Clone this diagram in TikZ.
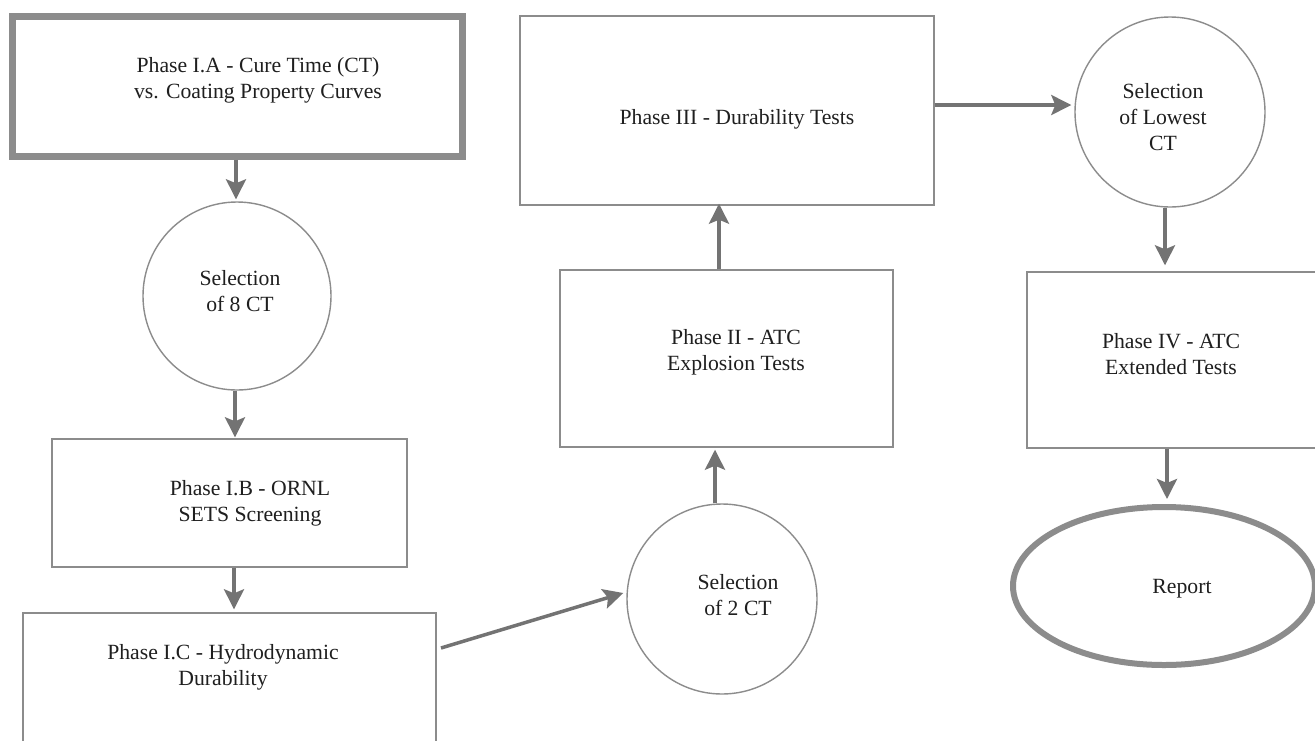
\documentclass[tikz,border=0pt]{standalone}
\usepackage{fontspec}
\setmainfont{Liberation Serif}
\usetikzlibrary{arrows.meta,shapes.geometric,calc}
\definecolor{bordergray}{gray}{0.55}
\definecolor{arrowgray}{gray}{0.45}
\definecolor{inkgray}{gray}{0.12}
\tikzset{
  x=1pt, y=-1pt,
  thinbox/.style={draw=bordergray, line width=1.4pt, rectangle, inner sep=0pt},
  thickbox/.style={draw=bordergray, line width=7pt, rectangle, inner sep=0pt},
  selcircle/.style={draw=bordergray, line width=1.4pt, circle, inner sep=0pt},
  endellipse/.style={draw=bordergray, line width=6pt, ellipse, inner sep=0pt},
  lbl/.style={text=inkgray, align=center, font=\fontsize{21.7}{26}\selectfont, inner sep=0pt},
  flow/.style={draw=arrowgray, line width=3.5pt,
    -{Stealth[length=20pt,width=20pt,inset=4pt]}}
}
\begin{document}
\begin{tikzpicture}
\useasboundingbox (0,0) rectangle (1315,740);
\fill[white] (0,0) rectangle (1315,740);
\clip (0,0) rectangle (1315,740);

% shapes
\node[thickbox, minimum width=450pt, minimum height=140pt] (ia) at (237,86) {};
\node[selcircle, minimum size=188pt] (c1) at (237,296) {};
\node[thinbox, minimum width=355pt, minimum height=128pt] (ib) at (229.5,503) {};
\node[thinbox, minimum width=413pt, minimum height=160pt] (ic) at (229.5,693) {};
\node[selcircle, minimum size=190pt] (c2) at (722,599) {};
\node[thinbox, minimum width=333pt, minimum height=177pt] (p2) at (726.5,358.5) {};
\node[thinbox, minimum width=414pt, minimum height=189pt] (p3) at (727,110.5) {};
\node[selcircle, minimum size=190pt] (c3) at (1170,112) {};
\node[thinbox, minimum width=320pt, minimum height=176pt] (p4) at (1187,360) {};
\node[endellipse, minimum width=302pt, minimum height=158pt] (rep) at (1164,586) {};

% labels
\node[lbl] (tia) at (258,80) {Phase I.A - Cure Time (CT)\\vs. Coating Property Curves};
\node[lbl] (tc1) at (240,291.5) {Selection\\of 8 CT};
\node[lbl] (tib) at (250,503) {Phase I.B - ORNL\\SETS Screening};
\node[lbl] (tic) at (223,667.5) {Phase I.C - Hydrodynamic\\Durability};
\node[lbl] (tc2) at (738,595.5) {Selection\\of 2 CT};
\node[lbl] (tp2) at (736,352) {Phase II - ATC\\Explosion Tests};
\node[lbl] (tp3) at (737,119) {Phase III - Durability Tests};
\node[lbl] (tc3) at (1163,117) {Selection\\of Lowest\\CT};
\node[lbl] (tp4) at (1171,354.5) {Phase IV - ATC\\Extended Tests};
\node[lbl] (trep) at (1182,589) {Report};

% connectors
\coordinate (icout) at (441,648);
\draw[flow, shorten >=2pt] ([xshift=-1pt]ia.south) -- ([xshift=-1pt]c1.north);
\draw[flow, shorten >=1pt] ([xshift=-2pt]c1.south) -- ([xshift=-2pt]c1.south |- ib.north);
\draw[flow, shorten >=3pt] ([xshift=4.5pt]ib.south) -- ([xshift=4.5pt]ib.south |- ic.north);
\draw[flow] (icout) -- ($(c2.west)+(-3,-6)$);
\draw[flow, shorten >=2pt] ([xshift=-7pt]c2.north) -- ([xshift=-7pt]c2.north |- p2.south);
\draw[flow, shorten >=-2pt] ([xshift=-7.5pt]p2.north) -- ([xshift=-7.5pt]p2.north |- p3.south);
\draw[flow, shorten >=3pt] (p3.east |- 0,105) -- (c3.west |- 0,105);
\draw[flow, shorten >=6pt] ([xshift=-5pt]c3.south) -- ([xshift=-5pt]c3.south |- p4.north);
\draw[flow, shorten >=5pt] ([xshift=-20pt]p4.south) -- ([xshift=-20pt]p4.south |- rep.north);
\end{tikzpicture}
\end{document}
